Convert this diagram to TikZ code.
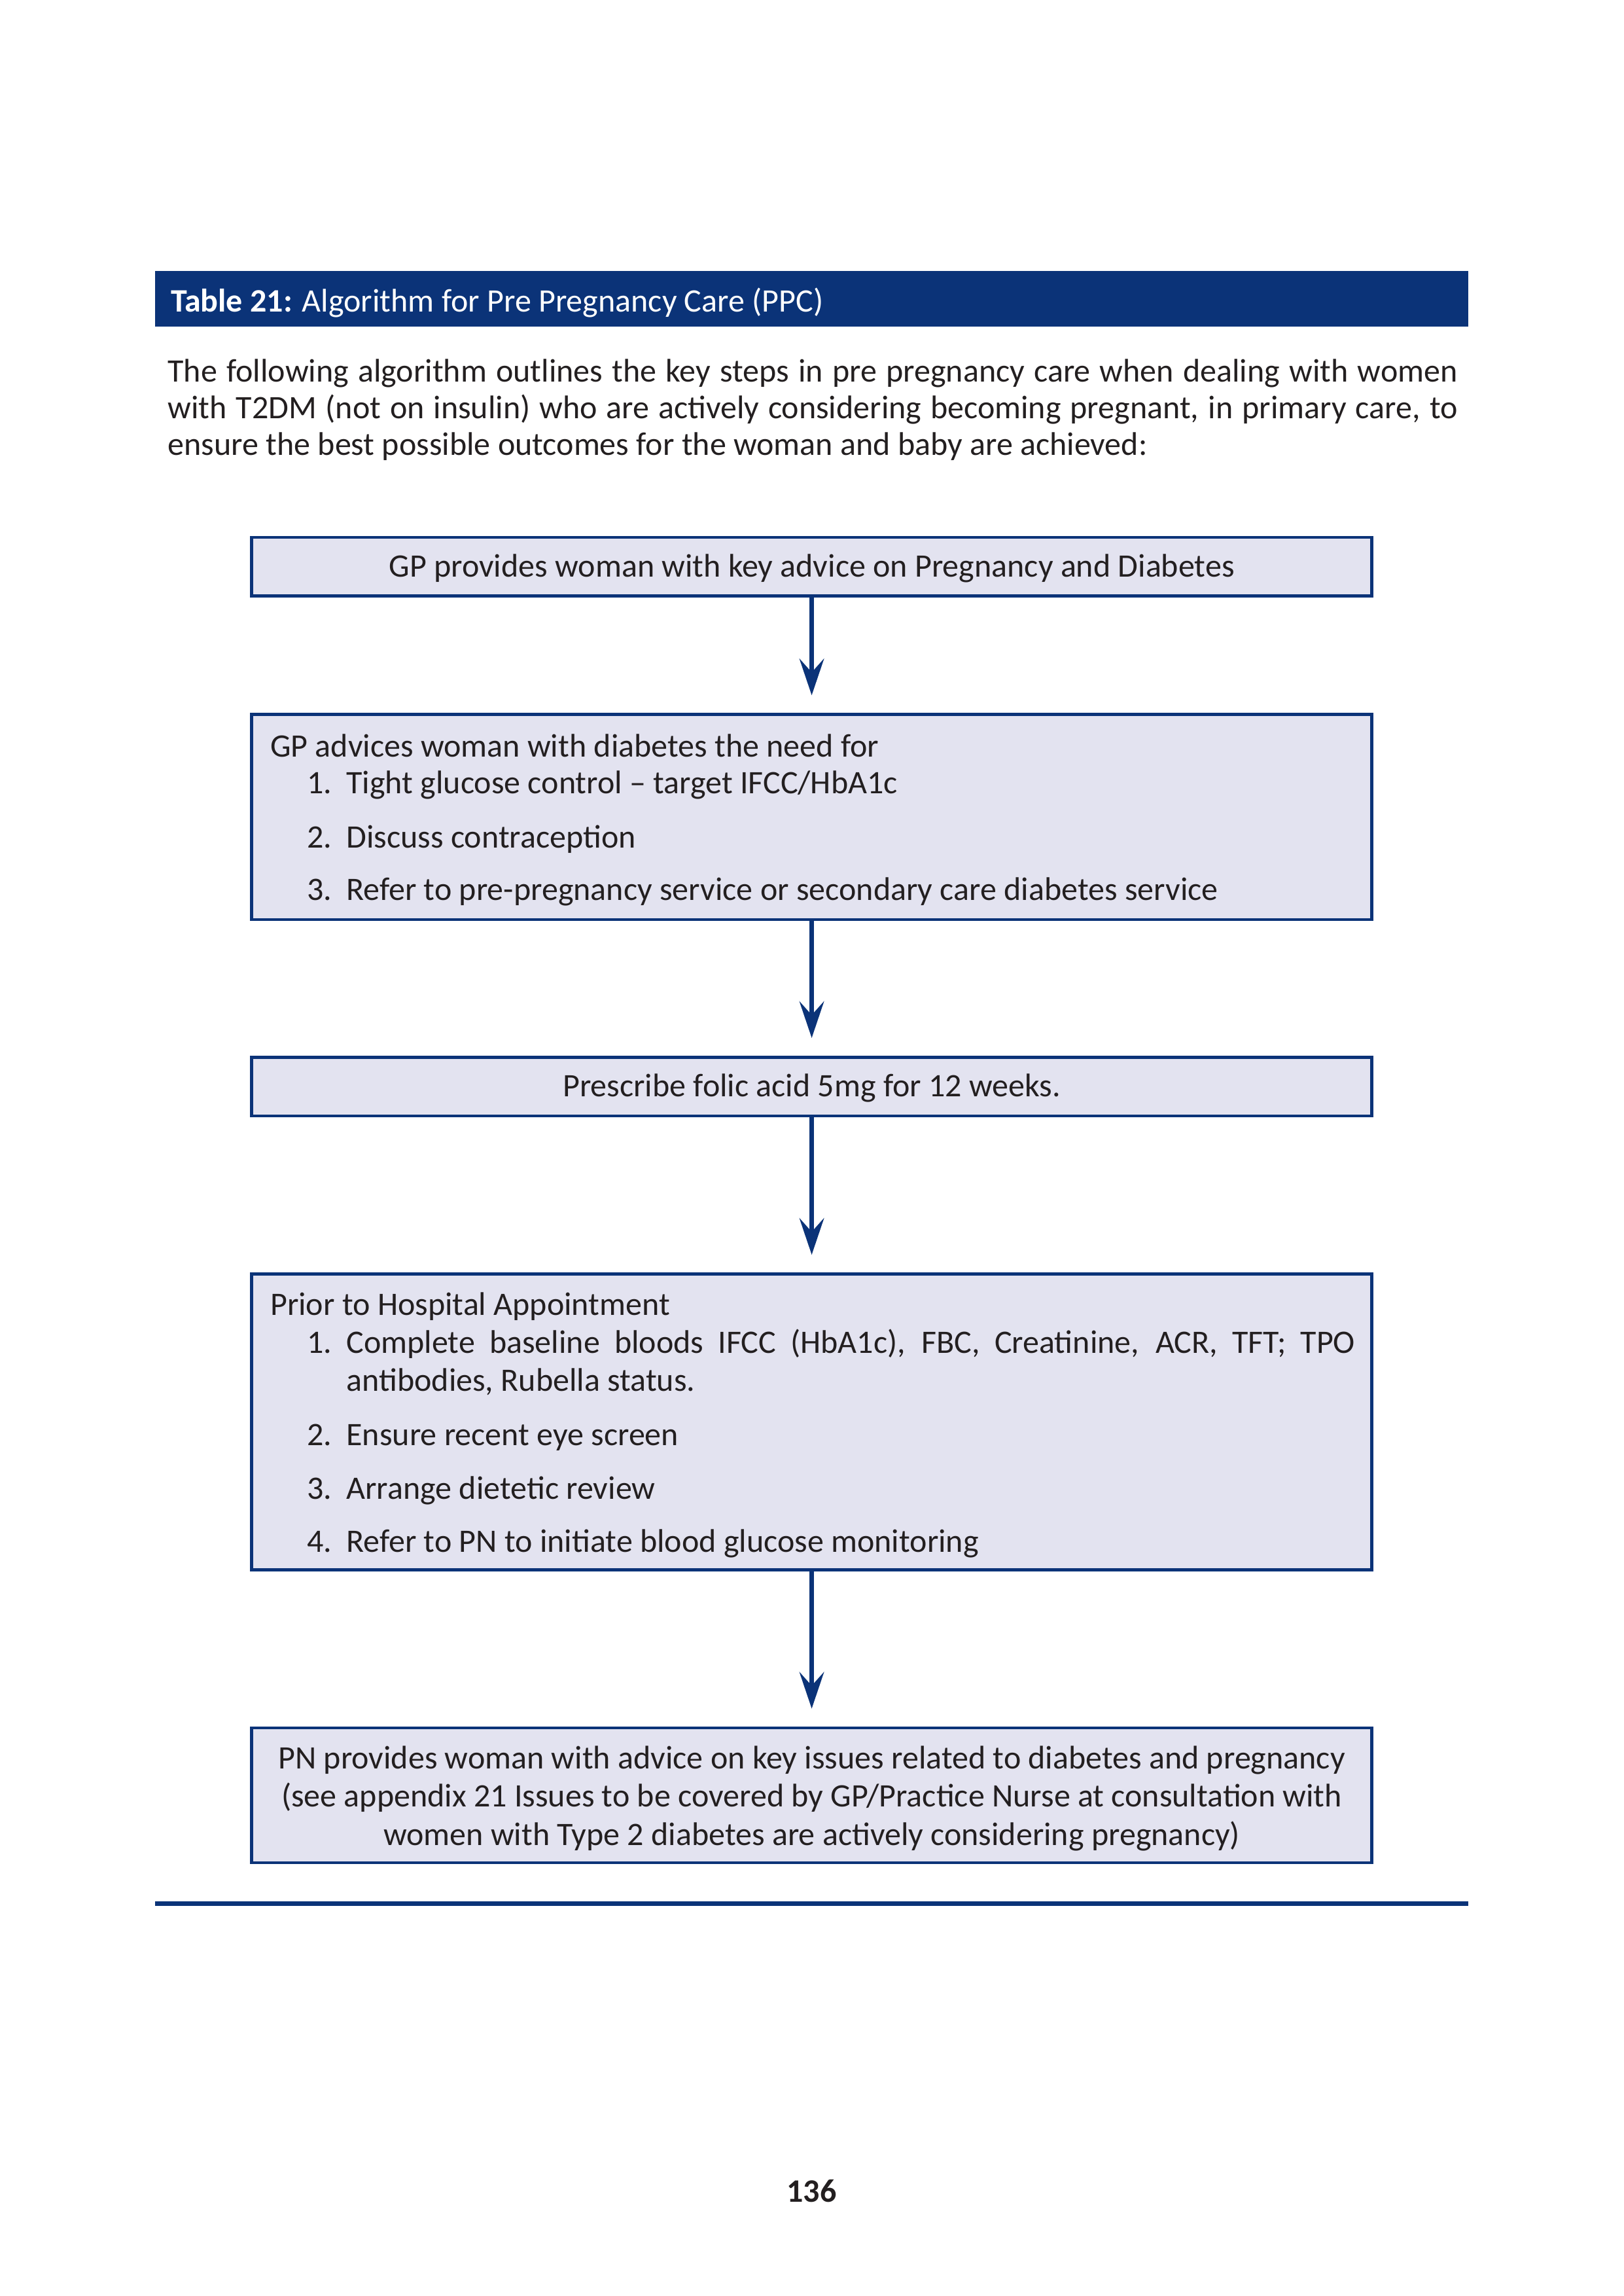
\documentclass[tikz,border=0pt]{standalone}
\usepackage{fontspec}
\setmainfont{Carlito}
\usetikzlibrary{arrows.meta}

\definecolor{ppcblue}{RGB}{11,51,120}
\definecolor{ppcfill}{RGB}{227,227,240}
\definecolor{ppctext}{RGB}{35,31,32}

\tikzset{every picture/.style={line width=0.75pt}}
\tikzset{
  ppcbox/.style={draw=ppcblue, line width=1.1pt, fill=ppcfill, minimum width=410.7pt, inner sep=0pt},
  ppctxt/.style={font=\fontsize{12}{13.4}\selectfont, text=ppctext, inner sep=0pt},
  ppcwide/.style={font=\fontsize{12}{14}\selectfont, text=ppctext, inner sep=0pt},
  ppcarrow/.style={draw=ppcblue, line width=1.7pt, -{Stealth[length=13.4pt,width=9pt,inset=5pt]}, shorten >=6.5pt},
}

\begin{document}
\begin{tikzpicture}[x=0.5368pt,y=0.5368pt,yscale=-1,xscale=1]
	\fill[white] (0,0) rectangle (1109,1568);
	\useasboundingbox (0,0) rectangle (1109,1568);

	%Shape: Rectangle [header bar]
	\fill[ppcblue] (106,185) rectangle (1003,223);
	% Text Node
	\node[ppctxt, anchor=base west, text=white] (title) at (116,213) {\textbf{Table 21:} Algorithm for Pre Pregnancy Care (PPC)};
	% Text Node
	\node[ppctxt, anchor=base west, text width=473pt, align=justify] (intro) at (114,261) {The following algorithm outlines the key steps in pre pregnancy care when dealing with women\linebreak with T2DM (not on insulin) who are actively considering becoming pregnant, in primary care, to\linebreak ensure the best possible outcomes for the woman and baby are achieved:};

	%Shape: Rectangle [boxes]
	\node[ppcbox, minimum height=21.5pt] (gpkey) at (554.5,387) {};
	\node[ppcbox, minimum height=75.2pt] (gpneed) at (554.5,558) {};
	\node[ppcbox, minimum height=21.5pt] (folic) at (554.5,742) {};
	\node[ppcbox, minimum height=108.4pt] (prior) at (554.5,971) {};
	\node[ppcbox, minimum height=49.4pt] (pnadvice) at (554.5,1226) {};

	%Straight Lines [arrows]
	\draw[ppcarrow] (gpkey.south) -- (gpneed.north);
	\draw[ppcarrow] (gpneed.south) -- (folic.north);
	\draw[ppcarrow] (folic.south) -- (prior.north);
	\draw[ppcarrow] (prior.south) -- (pnadvice.north);

	% Text Node
	\node[ppctxt, anchor=base] (gpkeytxt) at (554.5,394) {GP provides woman with key advice on Pregnancy and Diabetes};

	% Text Node
	\node[ppctxt, anchor=base west] (needhead) at (184,517) {GP advices woman with diabetes the need for};
	\node[ppctxt, anchor=base west] (neednuma) at (209,542) {1.};
	\node[ppctxt, anchor=base west] (needa) at (236,542) {Tight glucose control -- target IFCC/HbA1c};
	\node[ppctxt, anchor=base west] (neednumb) at (209,579) {2.};
	\node[ppctxt, anchor=base west] (needb) at (236,579) {Discuss contraception};
	\node[ppctxt, anchor=base west] (neednumc) at (209,615) {3.};
	\node[ppctxt, anchor=base west] (needc) at (236,615) {Refer to pre-pregnancy service or secondary care diabetes service};

	% Text Node
	\node[ppctxt, anchor=base] (folictxt) at (554.5,749) {Prescribe folic acid 5mg for 12 weeks.};

	% Text Node
	\node[ppctxt, anchor=base west] (priorhead) at (184,898) {Prior to Hospital Appointment};
	\node[ppctxt, anchor=base west] (priornuma) at (209,924) {1.};
	\node[ppcwide, anchor=base west, text width=369.9pt, align=justify] (priora) at (236,924) {Complete baseline bloods IFCC (HbA1c), FBC, Creatinine, ACR, TFT; TPO\linebreak antibodies, Rubella status.};
	\node[ppctxt, anchor=base west] (priornumb) at (209,987) {2.};
	\node[ppctxt, anchor=base west] (priorb) at (236,987) {Ensure recent eye screen};
	\node[ppctxt, anchor=base west] (priornumc) at (209,1024) {3.};
	\node[ppctxt, anchor=base west] (priorc) at (236,1024) {Arrange dietetic review};
	\node[ppctxt, anchor=base west] (priornumd) at (209,1060) {4.};
	\node[ppctxt, anchor=base west] (priord) at (236,1060) {Refer to PN to initiate blood glucose monitoring};

	% Text Node
	\node[ppcwide, anchor=base, text width=410pt, align=flush center] (pntxt) at (554.5,1208) {PN provides woman with advice on key issues related to diabetes and pregnancy\\(see appendix 21 Issues to be covered by GP/Practice Nurse at consultation with\\women with Type 2 diabetes are actively considering pregnancy)};

	%Straight Lines [bottom rule]
	\draw[ppcblue, line width=1.7pt] (106,1300) -- (1003,1300);

	% Text Node
	\node[ppctxt, anchor=base, font=\fontsize{12}{13.4}\selectfont\bfseries] (pageno) at (554.5,1504) {136};

\end{tikzpicture}
\end{document}
